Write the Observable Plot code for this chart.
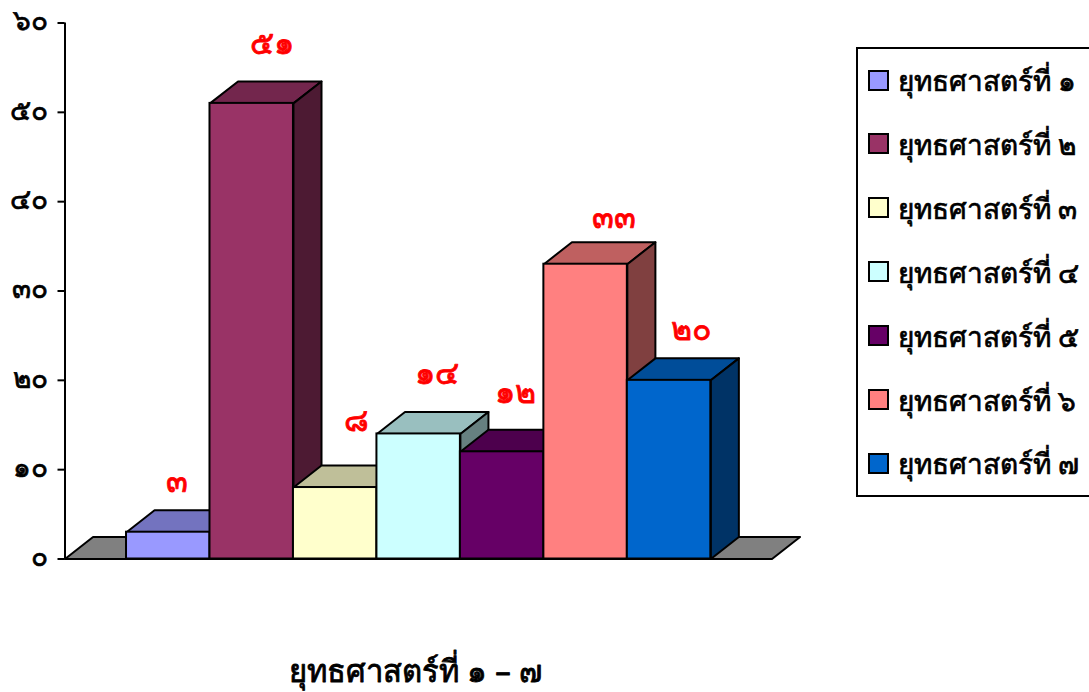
<!DOCTYPE html>
<html lang="th">
<head>
<meta charset="utf-8">
<script src="https://cdn.jsdelivr.net/npm/d3@7"></script>
<script src="https://cdn.jsdelivr.net/npm/@observablehq/plot@0.6"></script>
<style>
  html, body { margin: 0; padding: 0; background: #fff; overflow: hidden; }
  #wrap { position: relative; width: 1089px; height: 692px; overflow: hidden; }
  #wrap svg { display: block; overflow: visible; }
  #wrap svg [aria-label="y-axis tick label"] { stroke: #000; stroke-width: 0.7px; }
  #legend { position: absolute; left: 856px; top: 47px; width: 240px; height: 446px; border: 2px solid #000; box-sizing: content-box; background: #fff; }
  .item { position: absolute; left: 10px; height: 30px; display: flex; align-items: center; white-space: nowrap; font: 28px "Noto Sans", "DejaVu Sans", sans-serif; color: #000; -webkit-text-stroke: 0.7px #000; }
  .sw { width: 17px; height: 17px; border: 2px solid #000; margin-right: 9px; flex: none; position: relative; top: -1px; }
</style>
</head>
<body>
<div id="wrap"></div>
<script>
const seriesNames = ["ยุทธศาสตร์ที่ ๑","ยุทธศาสตร์ที่ ๒","ยุทธศาสตร์ที่ ๓","ยุทธศาสตร์ที่ ๔","ยุทธศาสตร์ที่ ๕","ยุทธศาสตร์ที่ ๖","ยุทธศาสตร์ที่ ๗"];
const seriesValues = [3, 51, 8, 14, 12, 33, 20];
const seriesColors = ["#9999FF","#993366","#FFFFCC","#CCFFFF","#660066","#FF8080","#0066CC"];
const yTicks = [0, 10, 20, 30, 40, 50, 60];
const axisTitle = "ยุทธศาสตร์ที่ ๑ – ๗";

// Layout (not data)
const FONT = '"Noto Sans", "DejaVu Sans", sans-serif';
const X_END = 8.47, BAR_START = 0.737, DX = 0.336, DY = 2.46, EDGE = 2;
const labelNudge = [[-5,-50],[6,-60],[7,-67],[4,-60],[-1,-59],[14,-46],[8,-51]];
const thai = n => String(n).replace(/\d/g, d => "๐๑๒๓๔๕๖๗๘๙"[d]);
const shade = (c, k) => { const r = d3.rgb(c); return d3.rgb(r.r*k, r.g*k, r.b*k).formatHex(); };
const poly = (pts, fill) => Plot.line(pts, {x: d => d[0], y: d => d[1], fill, stroke: "#000", strokeWidth: EDGE, curve: "linear-closed"});

const marks = [];
// floor
marks.push(poly([[0,0],[DX,DY],[X_END+DX,DY],[X_END,0]], "#808080"));
// bars, painted left to right
seriesValues.forEach((v, i) => {
  const a = BAR_START + i, b = a + 1, c = seriesColors[i];
  marks.push(poly([[a,v],[a+DX,v+DY],[b+DX,v+DY],[b,v]], shade(c, 0.75)));
  marks.push(poly([[b,0],[b+DX,DY],[b+DX,v+DY],[b,v]], shade(c, 0.5)));
  marks.push(Plot.rectY([v], {x1: a, x2: b, y1: 0, y2: d => d, fill: c, stroke: "#000", strokeWidth: EDGE}));
});
// axis line + baseline
marks.push(Plot.ruleX([0], {y1: 0, y2: 60, stroke: "#000", strokeWidth: EDGE}));
marks.push(Plot.ruleY([0], {x1: 0, x2: X_END, stroke: "#000", strokeWidth: EDGE}));
marks.push(Plot.axisY({ticks: yTicks, tickFormat: () => "", tickSize: 7, label: null, stroke: "#000", strokeWidth: EDGE}));
marks.push(Plot.axisY({ticks: yTicks, tickFormat: thai, tickSize: 0, tickPadding: 17, dy: -1.5, label: null, fontSize: 28, fontWeight: "normal", fontFamily: FONT, fill: "#000"}));
// value labels
seriesValues.forEach((v, i) => {
  marks.push(Plot.text([v], {x: BAR_START + i + 0.5 + DX/2, y: d => d, text: d => thai(d), dx: labelNudge[i][0], dy: labelNudge[i][1], fill: "#FF0000", stroke: "#FF0000", strokeWidth: 0.8, fontSize: 32, fontWeight: "normal", fontFamily: FONT}));
});
// title
marks.push(Plot.text([axisTitle], {x: 4.2, y: 0, dy: 113, fill: "#000", stroke: "#000", strokeWidth: 0.8, fontSize: 31, fontWeight: "normal", fontFamily: FONT}));

const chart = Plot.plot({
  width: 1089, height: 692,
  marginLeft: 64.5, marginRight: 317.5, marginTop: 22.5, marginBottom: 133.5,
  x: {domain: [0, X_END], axis: null},
  y: {domain: [0, 60], axis: null},
  style: {background: "#fff", overflow: "visible"},
  marks
});
const wrap = document.getElementById("wrap");
wrap.appendChild(chart);

const legend = document.createElement("div");
legend.id = "legend";
seriesNames.forEach((name, i) => {
  const it = document.createElement("div");
  it.className = "item";
  it.style.top = (17 + i * 63.9) + "px";
  const sw = document.createElement("span");
  sw.className = "sw";
  sw.style.background = seriesColors[i];
  it.appendChild(sw);
  it.appendChild(document.createTextNode(name));
  legend.appendChild(it);
});
wrap.appendChild(legend);
</script>
</body>
</html>
